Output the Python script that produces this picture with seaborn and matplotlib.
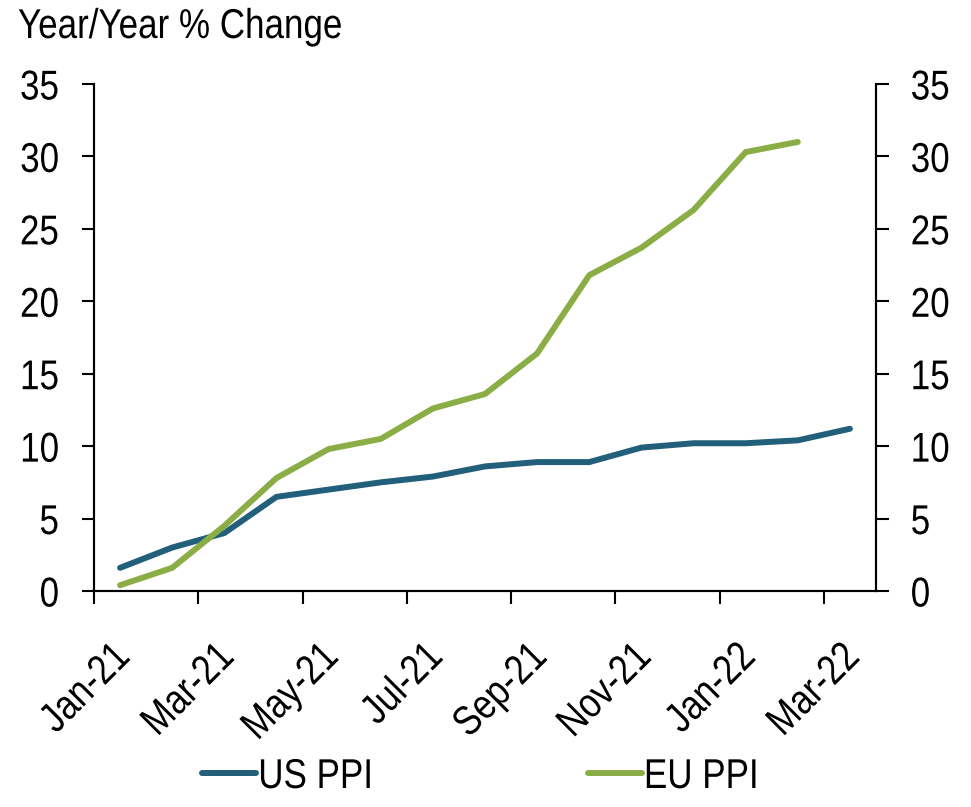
import numpy as np
import pandas as pd
import matplotlib
matplotlib.use("Agg")
import matplotlib.pyplot as plt
import matplotlib.transforms as mtransforms
from matplotlib.lines import Line2D
from matplotlib.patheffects import AbstractPathEffect
import seaborn as sns

# Year/Year % change, monthly
months = ["Jan-21", "Feb-21", "Mar-21", "Apr-21", "May-21", "Jun-21", "Jul-21", "Aug-21",
          "Sep-21", "Oct-21", "Nov-21", "Dec-21", "Jan-22", "Feb-22", "Mar-22"]
us_ppi = [1.6, 3.0, 4.0, 6.5, 7.0, 7.5, 7.9, 8.6, 8.9, 8.9, 9.9, 10.2, 10.2, 10.4, 11.2]
eu_ppi = [0.4, 1.6, 4.5, 7.8, 9.8, 10.5, 12.6, 13.6, 16.4, 21.8, 23.7, 26.3, 30.3, 31.0]
tick_labels = months[::2]
y_ticks = [0, 5, 10, 15, 20, 25, 30, 35]

colors = {"US PPI": "#215F7B", "EU PPI": "#8AAE45"}

# long table for seaborn, points sit mid-month
df = pd.concat([
    pd.DataFrame({"month": np.arange(len(us_ppi)) + 0.5, "value": us_ppi, "series": "US PPI"}),
    pd.DataFrame({"month": np.arange(len(eu_ppi)) + 0.5, "value": eu_ppi, "series": "EU PPI"}),
])


class Narrow(AbstractPathEffect):
    """squeeze text horizontally (no condensed Arial available)"""
    def __init__(self, sx=0.84, ha="left"):
        super().__init__()
        self.sx = sx
        self.ha = ha

    def draw_path(self, renderer, gc, tpath, affine, rgbFace=None):
        w = tpath.get_extents().x1
        shift = {"left": 0.0, "center": 0.5, "right": 1.0}[self.ha] * (1 - self.sx) * w
        aff = mtransforms.Affine2D().scale(self.sx, 1).translate(shift, 0) + affine
        renderer.draw_path(gc, tpath, aff, rgbFace)


sns.set_style("ticks")
plt.rcParams["font.family"] = ["Liberation Sans", "DejaVu Sans"]
plt.rcParams["text.color"] = "black"
plt.rcParams["xtick.color"] = "black"
plt.rcParams["ytick.color"] = "black"

fig = plt.figure(figsize=(9.71, 8.07), dpi=100)
ax = fig.add_axes([94 / 971, 1 - 591 / 807, 782 / 971, 507 / 807])

sns.lineplot(data=df, x="month", y="value", hue="series", palette=colors,
             linewidth=4.3, ax=ax, legend=False, solid_capstyle="round")

ax.set_xlim(0, len(months))
ax.set_ylim(0, 35)
ax.set_xticks(np.arange(0, len(months), 2))
ax.set_xticklabels(tick_labels)
ax.set_yticks(y_ticks)
ax.set_xlabel("")
ax.set_ylabel("")

ax2 = ax.twinx()
ax2.set_ylim(0, 35)
ax2.set_yticks(y_ticks)

for a in (ax, ax2):
    a.spines["top"].set_visible(False)
    for s in a.spines.values():
        s.set_linewidth(1.5)
        s.set_color("black")
    a.tick_params(axis="both", length=9, width=1.5, color="black",
                  labelsize=30, pad=16, direction="out", labelcolor="black")

ax.tick_params(axis="x", pad=34)
offset = mtransforms.ScaledTranslation(0.30, 0, fig.dpi_scale_trans)
for lbl in ax.get_xticklabels():
    lbl.set_rotation(45)
    lbl.set_ha("right")
    lbl.set_va("center")
    lbl.set_rotation_mode("anchor")
    lbl.set_transform(lbl.get_transform() + offset)
    lbl.set_path_effects([Narrow(ha="right")])

for lbl in ax.get_yticklabels():
    lbl.set_path_effects([Narrow(ha="right")])
for lbl in ax2.get_yticklabels():
    lbl.set_path_effects([Narrow(ha="left")])

title = fig.text(18 / 971, 1 - 38 / 807, "Year/Year % Change", fontsize=30,
                 va="baseline", ha="left")
title.set_path_effects([Narrow(ha="left")])

handles = [Line2D([0], [0], color=colors[k], lw=4.3, solid_capstyle="round") for k in colors]
leg = fig.legend(handles, list(colors.keys()), loc="center left",
                 bbox_to_anchor=(202 / 971, 1 - 777 / 807), ncol=2, frameon=False,
                 fontsize=30, handlelength=1.3, handletextpad=0.05, columnspacing=4.63,
                 borderpad=0, borderaxespad=0)
for t in leg.get_texts():
    t.set_path_effects([Narrow(ha="left")])

fig.savefig("out.png", dpi=100)
